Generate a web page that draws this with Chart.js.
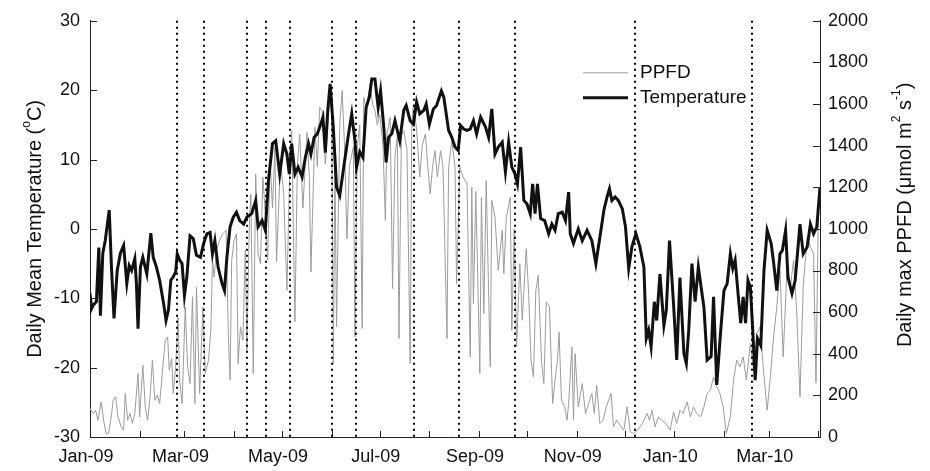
<!DOCTYPE html>
<html>
<head>
<meta charset="utf-8">
<script src="https://cdn.jsdelivr.net/npm/chart.js@4.4.1/dist/chart.umd.min.js"></script>
<style>
  html, body { margin: 0; padding: 0; background: #fff; }
  #wrap { width: 930px; height: 471px; }
</style>
</head>
<body>
<div id="wrap"><canvas id="climChart" width="930" height="471"></canvas></div>
<script>
// ================= DATA =================
// x values are days since 1 Jan 2009
const monthStarts = [0, 31, 59, 90, 120, 151, 181, 212, 243, 273, 304, 334, 365, 396, 424, 455];
const monthLabels = ["Jan-09", "", "Mar-09", "", "May-09", "", "Jul-09", "", "Sep-09", "", "Nov-09", "", "Jan-10", "", "Mar-10", ""];

// sampling dates (dotted verticals)
const eventDays = [54.2, 71.3, 97.9, 109.8, 125, 151.4, 166.3, 202.3, 230.2, 265.4, 340.4, 413.6];

const tempDays = [0, 1, 2, 4, 5.5, 6.5, 8, 9.5, 12, 13.5, 15, 17, 19, 21, 23, 24.5, 26, 28, 29, 30,
  31.5, 33, 35.5, 38, 39.5, 41.5, 43.5, 46, 47.5, 49, 50.5, 52, 53.5, 54.5, 56, 57.5, 59, 60.5, 62.5, 64.5,
  66.5, 69, 71, 73, 75, 76.5, 78, 80, 82.5, 84, 85.5, 87.5, 89.5, 91.5, 93.5, 96, 98, 101, 103.5, 105,
  107.5, 109.5, 111.5, 114, 116, 118.5, 121, 123, 124.5, 126, 128, 130, 132.5, 134.5, 136.5, 138, 140, 142, 144, 145.5,
  147, 148.5, 150, 152, 154, 156, 158.5, 161.5, 163.5, 165.5, 166.5, 168.5, 170.5, 172.5, 174.5, 176, 178, 180, 181.5, 183.5,
  185, 186.5, 188.5, 190.5, 193.5, 196, 197.5, 200, 202, 204, 206, 208.5, 210, 212, 214.5, 216.5, 219.5, 221, 224, 226,
  228, 230, 231.5, 233.5, 235.5, 237.5, 239.5, 241.5, 244, 247, 249, 251, 253, 255, 257.5, 259.5, 261.5, 263.5, 265.5, 267,
  269, 271, 273, 275, 276.5, 278, 279.5, 281.5, 284, 286.5, 288.5, 290.5, 292.5, 295, 297, 299, 300, 302, 305, 307.5,
  310.5, 313.5, 316, 318.5, 321, 323, 324.5, 326, 328, 330, 332.5, 334.5, 336.5, 338.5, 341, 343.5, 346, 347.5, 349, 350.5,
  352.5, 354, 356, 358.5, 360, 362, 364.5, 366.5, 368.5, 371, 372.5, 374, 376, 378, 380, 383.5, 385.5, 388, 389.5, 391.5,
  394, 396, 398, 400, 401.5, 403, 405, 406.5, 408, 409.5, 411, 412.5, 414, 415.5, 417, 419, 421, 423, 425.5, 427,
  429, 431, 432.5, 434.5, 436, 438.5, 440.5, 443.5, 445.5, 448, 450, 452, 454, 456];
const tempValues = [-9.3, -11.5, -11, -10.5, -2.7, -12.5, -3.5, -1.7, 2.7, -6, -12.9, -6, -3.5, -2.4, -7.9, -5.3, -6, -4.3, -7.9, -14.4,
  -5.5, -4.1, -6.5, -0.6, -4.1, -5.5, -7.4, -10.8, -13.2, -11.7, -7.4, -6.9, -6.2, -3.6, -4.5, -5, -9.6, -6.9, -1, -1.4,
  -3.8, -4.1, -2.1, -0.7, -0.5, -3.6, -1.7, -5.5, -7.9, -8.9, -4.1, 0.3, 1.7, 2.4, 1.2, 0.7, 1.7, 2.2, 4.1, 0.3,
  1.2, -0.2, 7, 12.3, 12.7, 7.9, 12.3, 10.8, 7.9, 12.3, 7.9, 8.9, 7.5, 10.3, 12.3, 10.8, 13.2, 13.7, 15, 16.1,
  11, 17, 20.9, 14.5, 6, 4.8, 8.9, 13.7, 16.6, 12.7, 8.9, 11.1, 10.3, 17.5, 19, 21.6, 21.6, 17.5, 19.9, 14.7,
  9.6, 13.2, 13.7, 15.6, 12.7, 17.1, 17.8, 15.6, 15.1, 18.3, 16.6, 17.1, 18, 15.1, 17.3, 17.8, 19.9, 19, 14.2, 13.2,
  11.8, 11.3, 14.9, 14.4, 14.2, 14.4, 15.6, 13.7, 16.1, 14.7, 13.2, 17.3, 10.8, 11.8, 12.5, 8.2, 12.5, 8.9, 7.9, 6.5,
  11.8, 4.1, 3.6, 2.2, 6.5, 2.2, 6.5, 1.5, 1.2, -0.7, 0.7, -0.2, 2.2, 2.4, 1.2, 5.3, -0.7, -2.1, 0, -1.7,
  -0.2, -1.7, -5, -1.2, 2.7, 4.6, 5.8, 4.1, 4.6, 4.1, 2.9, 0.3, -5.7, -2.6, -0.7, -2.6, -5.5, -15.8, -14.6, -17,
  -10.5, -13.2, -6.5, -13.9, -11.7, -1.7, -10.8, -18.9, -7, -18, -19.4, -14.6, -5, -10.5, -5.5, -11.3, -18.9, -18.4, -9.8, -22.5,
  -14.6, -8.9, -7.9, -3.6, -5.7, -4.5, -9.8, -13.6, -9.8, -13.6, -7.4, -8.4, -14.6, -21.8, -15.8, -16.8, -6, -0.2, -2.1, -4.8,
  -8.9, -3.6, -3.1, -0.2, -7, -9.3, -7.4, 0.7, -3.6, -2.6, 0.7, -0.7, 0.3, 6];

const ppfdDays = [0, 2, 3.5, 5, 7, 8.5, 10, 11.5, 13, 14.5, 16, 17.5, 19.5, 21, 22, 23.5, 25, 26.5, 28, 30,
  31, 33, 34.5, 36, 37.5, 39, 40.5, 42, 43.5, 45.5, 47, 48.5, 49.5, 51, 52, 53.5, 55, 56, 57.5, 59.5,
  61, 62.5, 64, 65.5, 66.5, 68.5, 70.5, 72, 74, 75.5, 76.5, 77.5, 79, 81, 83, 85, 86.5, 87.5, 88.5, 90,
  91.5, 92.5, 94, 95.5, 97, 98, 99.5, 100.5, 102, 103.5, 105, 106.5, 108, 109.5, 111, 112.5, 114, 115.5, 116.5, 119,
  121, 123, 124.5, 126, 128, 129.5, 131, 133, 135.5, 137, 138, 140.5, 142, 143.5, 145, 147, 148.5, 150, 151, 152,
  153, 154, 156, 157.5, 159, 160.5, 162, 164.5, 165.5, 167, 168.5, 170, 171, 172.5, 175, 176.5, 178, 179.5, 181, 183,
  184.5, 185.5, 187.5, 189, 190.5, 192, 193, 194.5, 196, 198, 200, 201, 202, 204, 206, 207.5, 209.5, 211, 212.5, 214,
  215.5, 217, 219, 220.5, 223, 224, 226, 228, 229, 231, 233, 235.5, 237.5, 238.5, 239.5, 241, 243.5, 244.5, 246, 247.5,
  250, 251, 253, 255, 257.5, 258.5, 260, 262.5, 263.5, 265, 266.5, 268.5, 270, 272.5, 274, 275.5, 277, 278.5, 280, 282,
  283.5, 285, 287, 289, 290.5, 292, 293, 294.5, 296.5, 298, 299, 301, 302, 303, 305, 307.5, 309.5, 311.5, 313.5, 315,
  316.5, 318.5, 320.5, 322.5, 325.5, 327, 329, 331, 333.5, 335.5, 337.5, 339.5, 342, 345, 348, 349.5, 351, 353, 355, 357,
  359.5, 362.5, 364.5, 366.5, 368.5, 370.5, 373, 375, 377, 379, 381.5, 383.5, 385.5, 387.5, 389.5, 391.5, 393.5, 395.5, 397.5, 400,
  402, 404, 406, 408, 410, 412.5, 414.5, 416.5, 418.5, 420.5, 423, 425, 427, 429, 431, 433, 435.5, 437.5, 439.5, 441.5,
  443.5, 445.5, 448, 450, 452, 453.5, 455];
const ppfdValues = [137, 113, 129, 81, 169, 81, 17, 17, 81, 177, 193, 97, 49, 33, 209, 81, 113, 65, 113, 305,
  97, 345, 145, 81, 193, 369, 177, 201, 161, 337, 465, 481, 321, 377, 209, 337, 577, 273, 161, 625,
  337, 257, 673, 161, 721, 209, 625, 305, 369, 513, 849, 769, 897, 945, 977, 993, 465, 273, 849, 945,
  977, 353, 529, 465, 897, 417, 1009, 1168, 305, 1264, 881, 833, 1248, 1073, 850, 1328, 1100, 1392, 841, 1328,
  1168, 705, 1200, 1472, 553, 1300, 1456, 1100, 1464, 1250, 793, 1488, 1300, 1584, 1568, 1312, 1500, 1680, 1600, 353,
  1300, 529, 1500, 1664, 1400, 953, 1300, 1392, 481, 1400, 1500, 521, 1632, 1580, 1696, 1600, 1568, 1500, 1550, 1400,
  1041, 1456, 1536, 713, 1344, 1450, 473, 1450, 1472, 1380, 353, 1500, 1600, 1480, 1249, 1400, 1456, 1300, 1168, 1300,
  1376, 1250, 1376, 1300, 473, 1296, 1424, 1300, 737, 1296, 1250, 1216, 385, 1200, 641, 1180, 305, 1150, 593, 1232,
  337, 1137, 1057, 800, 993, 785, 1050, 1153, 513, 1000, 433, 833, 561, 905, 689, 369, 289, 705, 777, 369,
  257, 649, 625, 161, 273, 369, 505, 177, 145, 81, 161, 433, 81, 401, 145, 257, 113, 161, 209, 113,
  249, 65, 81, 145, 209, 49, 81, 57, 33, 145, 25, 17, 33, 65, 113, 81, 129, 49, 97, 81,
  65, 33, 121, 65, 129, 113, 169, 97, 145, 113, 97, 145, 209, 225, 289, 241, 209, 145, 17, 97,
  273, 369, 337, 385, 273, 449, 321, 497, 529, 337, 129, 289, 481, 625, 801, 385, 833, 721, 849, 593,
  193, 721, 961, 913, 881, 260, 1100];

const tempTicks = [-30, -20, -10, 0, 10, 20, 30];
const ppfdTicks = [0, 200, 400, 600, 800, 1000, 1200, 1400, 1600, 1800, 2000];

// ================= HELPERS =================
const FONT = "'Liberation Sans', Arial, Helvetica, sans-serif";

function toPoints(xs, ys) {
  return xs.map((x, i) => ({ x: x, y: ys[i] }));
}

// title text with superscript runs, drawn bottom-to-top
function drawRotatedRuns(ctx, runs, cx, cy, size) {
  ctx.save();
  ctx.translate(cx, cy);
  ctx.rotate(-Math.PI / 2);
  ctx.fillStyle = "#111";
  ctx.textBaseline = "middle";
  ctx.textAlign = "left";
  let total = 0;
  runs.forEach(r => {
    ctx.font = (r.sup ? Math.round(size * 0.62) : size) + "px " + FONT;
    r.w = ctx.measureText(r.t).width;
    total += r.w;
  });
  let x = -total / 2;
  runs.forEach(r => {
    ctx.font = (r.sup ? Math.round(size * 0.62) : size) + "px " + FONT;
    ctx.fillText(r.t, x, r.sup ? -size * 0.42 : 0);
    x += r.w;
  });
  ctx.restore();
}

// ================= PLUGINS =================
const decorPlugin = {
  id: "decor",
  afterDatasetsDraw(chart) {
    const { ctx, chartArea, scales } = chart;
    // dotted sampling lines
    ctx.save();
    ctx.strokeStyle = "#000";
    ctx.lineWidth = 2;
    ctx.setLineDash([2, 4]);
    eventDays.forEach(d => {
      const x = Math.round(scales.x.getPixelForValue(d));
      ctx.beginPath();
      ctx.moveTo(x, chartArea.top);
      ctx.lineTo(x, chartArea.bottom);
      ctx.stroke();
    });
    ctx.restore();

    // inward tick marks
    ctx.save();
    ctx.strokeStyle = "#222";
    ctx.lineWidth = 1;
    ctx.beginPath();
    monthStarts.forEach(d => {
      const x = Math.round(scales.x.getPixelForValue(d)) + 0.5;
      ctx.moveTo(x, chartArea.bottom);
      ctx.lineTo(x, chartArea.bottom - 6);
    });
    tempTicks.forEach(v => {
      const y = Math.round(scales.yL.getPixelForValue(v)) + 0.5;
      ctx.moveTo(chartArea.left, y);
      ctx.lineTo(chartArea.left + 7, y);
    });
    ppfdTicks.forEach(v => {
      const y = Math.round(scales.yR.getPixelForValue(v)) + 0.5;
      ctx.moveTo(chartArea.right, y);
      ctx.lineTo(chartArea.right - 7, y);
    });
    ctx.stroke();
    ctx.restore();

    // legend inside the plot
    const lx = chartArea.left + 493;
    const ly = chartArea.top + 52;
    ctx.save();
    ctx.font = "19px " + FONT;
    ctx.textBaseline = "middle";
    ctx.fillStyle = "#111";
    chart.data.datasets.forEach((ds, i) => {
      const y = ly + i * 25;
      ctx.strokeStyle = ds.borderColor;
      ctx.lineWidth = ds.borderWidth;
      ctx.beginPath();
      ctx.moveTo(lx, y);
      ctx.lineTo(lx + 45, y);
      ctx.stroke();
      ctx.fillText(ds.label, lx + 57, y);
    });
    ctx.restore();
  },
  afterDraw(chart) {
    const { ctx, chartArea } = chart;
    drawRotatedRuns(ctx, [
      { t: "Daily Mean Temperature (" }, { t: "o", sup: true }, { t: "C)" }
    ], 35, (chartArea.top + chartArea.bottom) / 2, 20);
    drawRotatedRuns(ctx, [
      { t: "Daily max PPFD (\u03bcmol m" }, { t: "2", sup: true }, { t: " s" }, { t: "-1", sup: true }, { t: ")" }
    ], 905, (chartArea.top + chartArea.bottom) / 2 - 14, 20);
  }
};

// ================= CHART =================
function loadClimateChart() {
  const ctx = document.getElementById("climChart");
  new Chart(ctx, {
    type: "line",
    data: {
      datasets: [
        {
          label: "PPFD",
          data: toPoints(ppfdDays, ppfdValues),
          yAxisID: "yR",
          borderColor: "#9c9c9c",
          borderWidth: 1,
          pointRadius: 0,
          order: 1
        },
        {
          label: "Temperature",
          data: toPoints(tempDays, tempValues),
          yAxisID: "yL",
          borderColor: "#111111",
          borderWidth: 3,
          pointRadius: 0,
          order: 0
        }
      ]
    },
    options: {
      responsive: false,
      animation: false,
      layout: { padding: { top: 20, left: 0, right: 0, bottom: 0 } },
      plugins: { legend: { display: false }, tooltip: { enabled: false } },
      scales: {
        x: {
          type: "linear",
          min: 0,
          max: 456,
          afterBuildTicks: s => { s.ticks = monthStarts.map(v => ({ value: v })); },
          afterFit: s => { s.height = 34; },
          grid: { display: false, drawTicks: false },
          border: { display: true, color: "#222", width: 1 },
          ticks: {
            autoSkip: false,
            maxRotation: 0,
            padding: 9,
            labelOffset: -4,
            color: "#111",
            font: { family: FONT, size: 18 },
            callback: (v, i) => monthLabels[i]
          }
        },
        yL: {
          position: "left",
          min: -30,
          max: 30,
          afterBuildTicks: s => { s.ticks = tempTicks.map(v => ({ value: v })); },
          afterFit: s => { s.width = 90; },
          grid: { display: false, drawTicks: false },
          border: { display: true, color: "#222", width: 1 },
          ticks: { padding: 10, color: "#111", font: { family: FONT, size: 18 }, callback: v => String(v) }
        },
        yR: {
          position: "right",
          min: 0,
          max: 2000,
          afterBuildTicks: s => { s.ticks = ppfdTicks.map(v => ({ value: v })); },
          afterFit: s => { s.width = 110; },
          grid: { display: false, drawTicks: false },
          border: { display: true, color: "#222", width: 1 },
          ticks: { padding: 8, color: "#111", font: { family: FONT, size: 18 }, callback: v => String(v) }
        }
      }
    },
    plugins: [decorPlugin]
  });
}

window.onload = () => {
  loadClimateChart();
};
</script>
</body>
</html>
